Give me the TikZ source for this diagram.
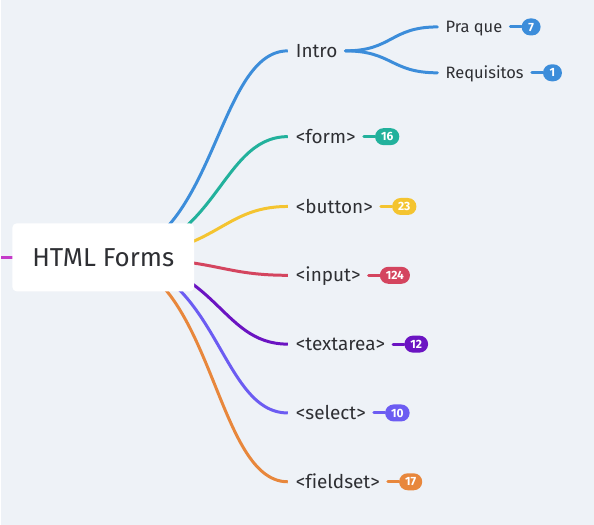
\documentclass[tikz,border=0pt]{standalone}
\usepackage{fontspec}
\setmainfont[Ligatures=NoCommon]{Fira Sans}
\usetikzlibrary{positioning}
\definecolor{bgcol}{HTML}{EEF2F7}
\definecolor{textcol}{HTML}{2E2F33}
\definecolor{parentmagenta}{HTML}{C53BC9}
\definecolor{introblue}{HTML}{3C8DDA}
\definecolor{formgreen}{HTML}{22B19C}
\definecolor{buttonyellow}{HTML}{F4C430}
\definecolor{inputred}{HTML}{D4455F}
\definecolor{textareapurple}{HTML}{6B14C2}
\definecolor{selectviolet}{HTML}{6C5CF2}
\definecolor{fieldsetorange}{HTML}{E8873C}
\pgfdeclarelayer{back}
\pgfdeclarelayer{wires}
\pgfsetlayers{back,wires,main}

\begin{document}
\begin{tikzpicture}[x=1pt,y=-1pt,
		topic/.style={anchor=west,inner xsep=8pt,inner ysep=0pt,text height=16.4pt,text depth=3.3pt,
			font=\fontsize{19}{22}\selectfont,text=textcol},
		subtopic/.style={topic,text height=15.4pt,font=\fontsize{16.5}{19}\selectfont},
		badge/.style={fill=#1,text=white,rounded corners=8.5pt,minimum height=17pt,minimum width=19pt,
			inner xsep=6pt,inner ysep=0pt,text height=8.3pt,text depth=0pt,
			font=\fontsize{12}{13}\selectfont\bfseries},
		wire/.style={draw=#1,line width=3pt,line cap=round},
		tree/.style={wire=#1,line cap=butt}
	]
	\begin{pgfonlayer}{back}
		\fill[bgcol] (0,0) rectangle (594,526);
	\end{pgfonlayer}

	\node[fill=white,rounded corners=4pt,minimum width=182pt,minimum height=68pt,
		font=\fontsize{26}{30}\selectfont,text=textcol] (root) at (102,258) {HTML Forms};
	\coordinate (parent) at (0,258);

	\node[topic] (intro) at (287,51) {Intro};
	\node[topic] (form) at (287,137) {<form>};
	\node[topic] (button) at (287,207) {<button>};
	\node[topic] (input) at (287,276) {<input>};
	\node[topic] (textarea) at (287,345) {<textarea>};
	\node[topic] (select) at (287,414) {<select>};
	\node[topic] (fieldset) at (287,483) {<fieldset>};

	\node[subtopic] (praque) at (437,27) {Pra que};
	\node[subtopic] (requisitos) at (437,73) {Requisitos};

	\node[badge=introblue,right=11pt of praque] (praquecount) {7};
	\node[badge=introblue,right=11pt of requisitos] (requisitoscount) {1};
	\node[badge=formgreen,right=11pt of form] (formcount) {16};
	\node[badge=buttonyellow,right=11pt of button] (buttoncount) {23};
	\node[badge=inputred,right=11pt of input] (inputcount) {124};
	\node[badge=textareapurple,right=11pt of textarea] (textareacount) {12};
	\node[badge=selectviolet,right=11pt of select] (selectcount) {10};
	\node[badge=fieldsetorange,right=11pt of fieldset] (fieldsetcount) {17};

	\begin{pgfonlayer}{wires}
		\draw[tree=parentmagenta] (parent) -- (root.center);
		\draw[tree=introblue] (root.center) .. controls +(112,0) and +(-73,0) .. (intro.west);
		\draw[tree=formgreen] (root.center) .. controls +(115,0) and +(-70,0) .. (form.west);
		\draw[tree=buttonyellow] (root.center) .. controls +(115,0) and +(-70,0) .. (button.west);
		\draw[tree=inputred] (root.center) .. controls +(115,0) and +(-70,0) .. (input.west);
		\draw[tree=textareapurple] (root.center) .. controls +(115,0) and +(-70,0) .. (textarea.west);
		\draw[tree=selectviolet] (root.center) .. controls +(115,0) and +(-70,0) .. (select.west);
		\draw[tree=fieldsetorange] (root.center) .. controls +(110,0) and +(-75,0) .. (fieldset.west);

		\draw[wire=introblue] (intro.east) .. controls +(47,0) and +(-47,0) .. (praque.west);
		\draw[wire=introblue] (intro.east) .. controls +(47,0) and +(-47,0) .. (requisitos.west);

		\draw[wire=introblue] (praque.east) -- (praquecount.west);
		\draw[wire=introblue] (requisitos.east) -- (requisitoscount.west);
		\draw[wire=formgreen] (form.east) -- (formcount.west);
		\draw[wire=buttonyellow] (button.east) -- (buttoncount.west);
		\draw[wire=inputred] (input.east) -- (inputcount.west);
		\draw[wire=textareapurple] (textarea.east) -- (textareacount.west);
		\draw[wire=selectviolet] (select.east) -- (selectcount.west);
		\draw[wire=fieldsetorange] (fieldset.east) -- (fieldsetcount.west);
	\end{pgfonlayer}
\end{tikzpicture}
\end{document}
